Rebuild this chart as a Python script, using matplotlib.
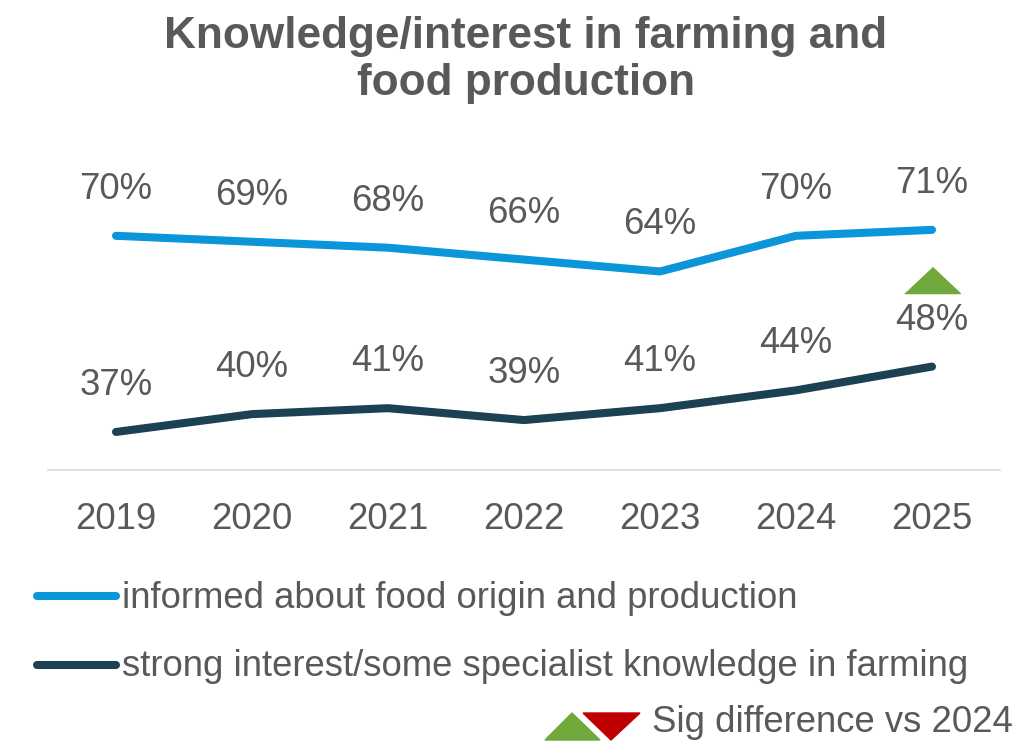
import matplotlib
matplotlib.use("Agg")
import matplotlib.pyplot as plt
from matplotlib.lines import Line2D
from matplotlib.patches import Polygon
from matplotlib.transforms import ScaledTranslation

plt.rcParams['font.family'] = ['Liberation Sans', 'DejaVu Sans']

years = ['2019', '2020', '2021', '2022', '2023', '2024', '2025']
informed = [70, 69, 68, 66, 64, 70, 71]
interest = [37, 40, 41, 39, 41, 44, 48]
series_names = ['informed about food origin and production',
                'strong interest/some specialist knowledge in farming']
sig_up = [False, False, False, False, False, False, True]   # interest series, vs 2024

TXT = '#595959'
BLUE = '#0A96D8'
DARK = '#1C4152'
GREEN = '#70A83B'
RED = '#C00000'
FS = 26.3

fig = plt.figure(figsize=(10.15, 7.46), dpi=100)
ax = fig.add_axes([48 / 1015, 276 / 746, 952 / 1015, 340 / 746])

x = list(range(len(years)))
for vals, col in [(informed, BLUE), (interest, DARK)]:
    ax.plot(x, vals, color=col, lw=5.8, solid_capstyle='round', solid_joinstyle='round')
    for xi, v in zip(x, vals):
        ax.annotate(f'{v}%', (xi, v), xytext=(0, 33.5), textcoords='offset points',
                    ha='center', va='center', fontsize=FS, color=TXT)

# significance marker between the label and the blue line
tri = [(-1, -0.47), (1, -0.47), (0, 0.47)]
shift = ax.transData + ScaledTranslation(0, 62 / 72, fig.dpi_scale_trans)
for xi, v, s in zip(x, interest, sig_up):
    if s:
        ax.plot([xi], [v], marker=tri, markersize=40, color=GREEN, lw=0, transform=shift)

ax.set_xlim(-0.5, 6.5)
ax.set_ylim(30.6, 87.8)
ax.set_xticks(x)
ax.set_xticklabels(years, fontsize=FS, color=TXT)
ax.tick_params(axis='x', length=0, pad=23)
ax.set_yticks([])
for sp in ['top', 'left', 'right']:
    ax.spines[sp].set_visible(False)
ax.spines['bottom'].set_color('#D9D9D9')
ax.spines['bottom'].set_linewidth(1.2)

fig.text(526 / 1015, 1 - 60 / 746, 'Knowledge/interest in farming and\nfood production',
         ha='center', va='center', fontsize=31.8, fontweight='bold', color=TXT, linespacing=1.2)

# legend
for yy, col, name in [(596, BLUE, series_names[0]), (665, DARK, series_names[1])]:
    fy = 1 - yy / 746
    fig.add_artist(Line2D([37 / 1015, 116 / 1015], [fy, fy], color=col, lw=5.8,
                          solid_capstyle='round', transform=fig.transFigure))
    fig.text(122 / 1015, 1 - (yy + 2) / 746, name, ha='left', va='center', fontsize=FS, color=TXT)

fy0 = 1 - 740 / 746
fy1 = 1 - 713 / 746
fig.add_artist(Polygon([(545 / 1015, fy0), (600 / 1015, fy0), (572 / 1015, fy1)],
                       closed=True, color=GREEN, transform=fig.transFigure))
fig.add_artist(Polygon([(583 / 1015, fy1), (640 / 1015, fy1), (611 / 1015, fy0)],
                       closed=True, color=RED, transform=fig.transFigure))
fig.text(652 / 1015, 1 - 723 / 746, 'Sig difference vs 2024', ha='left', va='center',
         fontsize=FS, color=TXT)

fig.savefig('out.png', dpi=100, facecolor='white')
